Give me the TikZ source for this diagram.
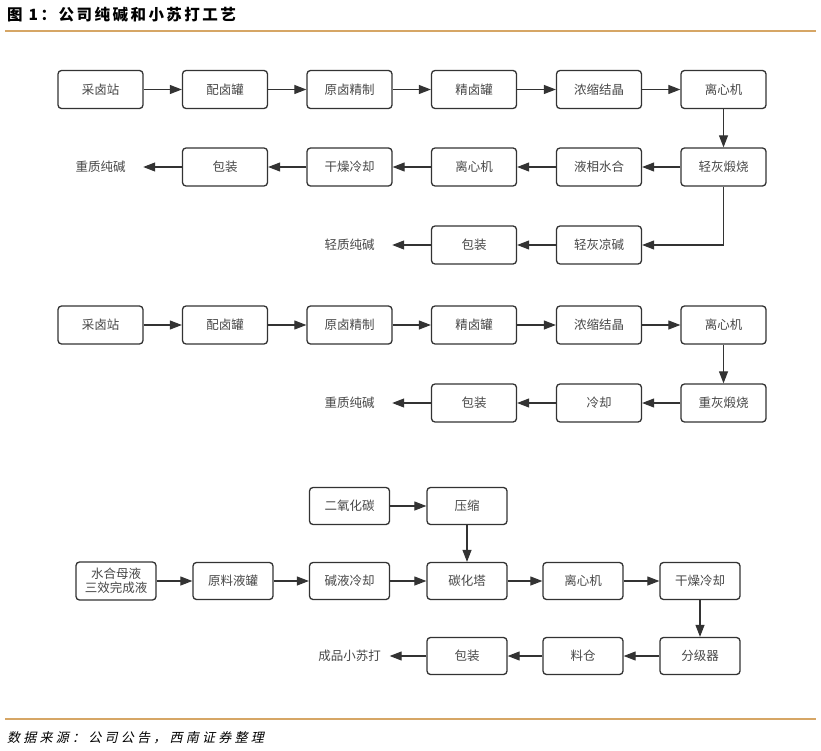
\documentclass[tikz,border=0pt]{standalone}
\usepackage{fontspec}
\usetikzlibrary{arrows.meta}
\newfontfamily\cjk{Noto Sans CJK SC}
\newfontfamily\titlefont[LetterSpace=16]{Noto Sans CJK SC}
\newfontfamily\srcfont[FakeSlant=0.22,LetterSpace=25]{Noto Sans CJK SC}
\definecolor{boxc}{HTML}{333333}
\definecolor{txtc}{HTML}{484848}
\definecolor{rulec}{HTML}{D6A665}
\tikzset{
  box/.style={draw=boxc, line width=1.3pt, rounded corners=3.5pt, minimum width=85pt, minimum height=38pt, inner sep=0pt, font=\cjk\fontsize{12.5}{14}\selectfont, text=txtc, align=center},
  boxs/.style={box, minimum width=80pt, minimum height=37pt},
  lbl/.style={inner sep=0pt, minimum width=85pt, minimum height=38pt, font=\cjk\fontsize{12.5}{14}\selectfont, text=txtc},
  arr/.style={-{Triangle[length=12pt,width=9pt]}, line width=1.1pt, draw=boxc}
}
\begin{document}
\begin{tikzpicture}[x=1pt,y=-1pt]
\fill[white] (0,0) rectangle (821,751);
\useasboundingbox (0,0) rectangle (821,751);
% title and rules
\node[anchor=west, inner sep=0pt, font=\titlefont\bfseries\fontsize{15.5}{17}\selectfont] (title) at (7,15) {图 1：公司纯碱和小苏打工艺};
\draw[rulec, line width=1.2pt] (5,31) -- (816,31);
\draw[rulec, line width=2pt] (5,719) -- (816,719);
\node[anchor=west, inner sep=0pt, font=\srcfont\fontsize{13}{15}\selectfont, text=black] (src) at (7,738) {数据来源：公司公告，西南证券整理};
% ===== section 1 =====
\node[box] (a1) at (100.5,89.5) {采卤站};
\node[box] (a2) at (225,89.5) {配卤罐};
\node[box] (a3) at (349.5,89.5) {原卤精制};
\node[box] (a4) at (474,89.5) {精卤罐};
\node[box] (a5) at (599,89.5) {浓缩结晶};
\node[box] (a6) at (723.5,89.5) {离心机};
\node[lbl] (b1) at (100.5,167) {重质纯碱};
\node[box] (b2) at (225,167) {包装};
\node[box] (b3) at (349.5,167) {干燥冷却};
\node[box] (b4) at (474,167) {离心机};
\node[box] (b5) at (599,167) {液相水合};
\node[box] (b6) at (723.5,167) {轻灰煅烧};
\node[lbl] (c3) at (349.5,245) {轻质纯碱};
\node[box] (c4) at (474,245) {包装};
\node[box] (c5) at (599,245) {轻灰凉碱};
\draw[arr] (a1) -- (a2);
\draw[arr] (a2) -- (a3);
\draw[arr] (a3) -- (a4);
\draw[arr] (a4) -- (a5);
\draw[arr] (a5) -- (a6);
\draw[arr] (a6) -- (b6);
\draw[arr] (b6) -- (b5);
\draw[arr] (b5) -- (b4);
\draw[arr] (b4) -- (b3);
\draw[arr] (b3) -- (b2);
\draw[arr] (b2) -- (b1);
\draw[arr] (b6.south) |- (c5.east);
\draw[arr] (c5) -- (c4);
\draw[arr] (c4) -- (c3);
% ===== section 2 =====
\node[box] (d1) at (100.5,325) {采卤站};
\node[box] (d2) at (225,325) {配卤罐};
\node[box] (d3) at (349.5,325) {原卤精制};
\node[box] (d4) at (474,325) {精卤罐};
\node[box] (d5) at (599,325) {浓缩结晶};
\node[box] (d6) at (723.5,325) {离心机};
\node[lbl] (e3) at (349.5,403) {重质纯碱};
\node[box] (e4) at (474,403) {包装};
\node[box] (e5) at (599,403) {冷却};
\node[box] (e6) at (723.5,403) {重灰煅烧};
\draw[arr] (d1) -- (d2);
\draw[arr] (d2) -- (d3);
\draw[arr] (d3) -- (d4);
\draw[arr] (d4) -- (d5);
\draw[arr] (d5) -- (d6);
\draw[arr] (d6) -- (e6);
\draw[arr] (e6) -- (e5);
\draw[arr] (e5) -- (e4);
\draw[arr] (e4) -- (e3);
% ===== section 3 =====
\node[boxs] (f3) at (349.5,506) {二氧化碳};
\node[boxs] (f4) at (467,506) {压缩};
\node[boxs, minimum height=38pt, font=\cjk\fontsize{12.5}{14}\selectfont] (g1) at (116,581) {水合母液\\三效完成液};
\node[boxs] (g2) at (233,581) {原料液罐};
\node[boxs] (g3) at (349.5,581) {碱液冷却};
\node[boxs] (g4) at (467,581) {碳化塔};
\node[boxs] (g5) at (583,581) {离心机};
\node[boxs] (g6) at (700,581) {干燥冷却};
\node[lbl, minimum width=80pt] (h3) at (349.5,656) {成品小苏打};
\node[boxs] (h4) at (467,656) {包装};
\node[boxs] (h5) at (583,656) {料仓};
\node[boxs] (h6) at (700,656) {分级器};
\draw[arr] (f3) -- (f4);
\draw[arr] (f4) -- (g4);
\draw[arr] (g1) -- (g2);
\draw[arr] (g2) -- (g3);
\draw[arr] (g3) -- (g4);
\draw[arr] (g4) -- (g5);
\draw[arr] (g5) -- (g6);
\draw[arr] (g6) -- (h6);
\draw[arr] (h6) -- (h5);
\draw[arr] (h5) -- (h4);
\draw[arr] (h4) -- (h3);
\end{tikzpicture}
\end{document}
